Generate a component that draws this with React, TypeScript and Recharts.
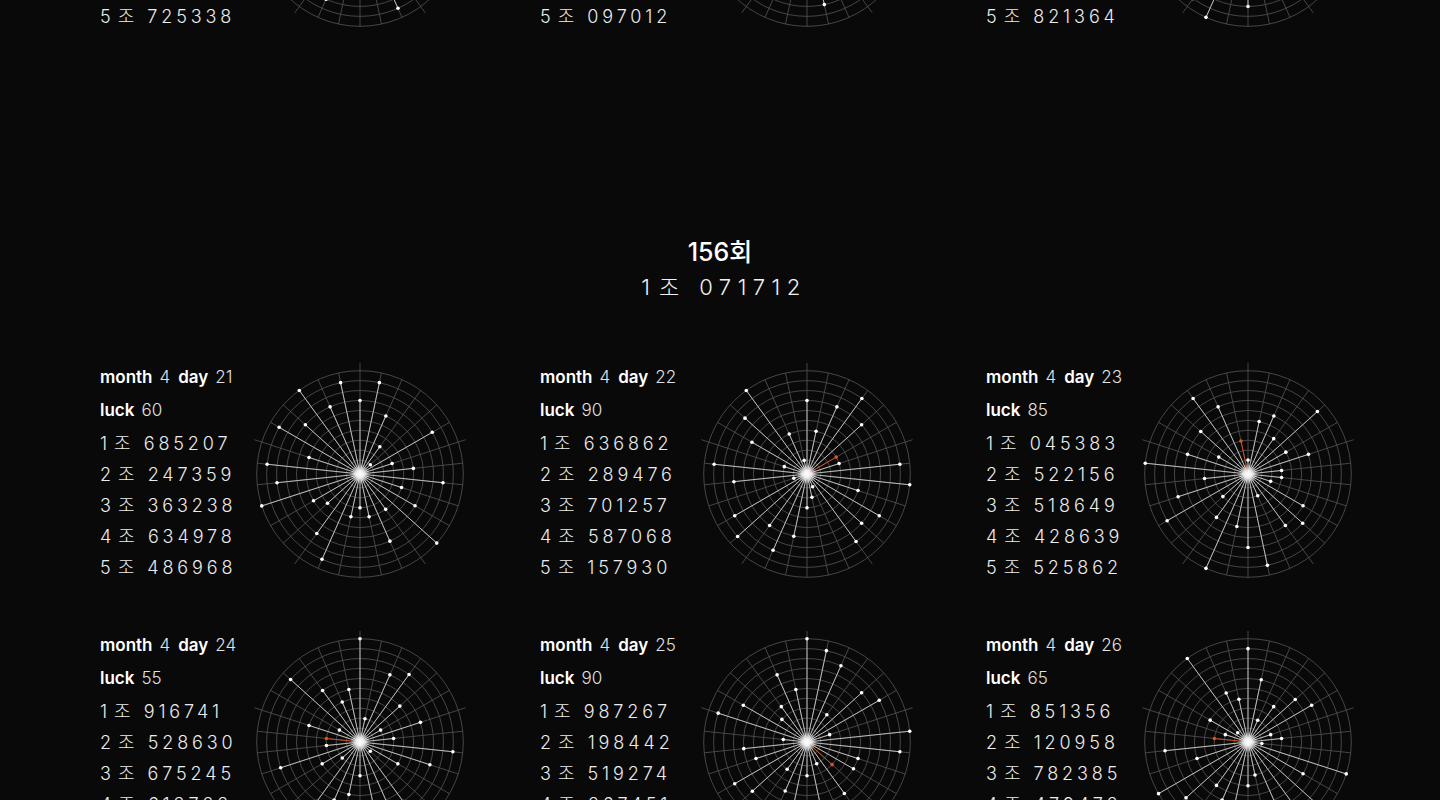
import { RadarChart, Radar, PolarGrid, PolarAngleAxis, PolarRadiusAxis } from 'recharts';

// 156회 winning number
const ROUND_NO = 156;
const WIN_GROUP = 1;
const WIN_NUMBER = '071712';

// 156회 cards (two rows of three)
const MONTH = 4;
const DAYS = [21, 22, 23, 24, 25, 26];
const LUCK = [60, 90, 85, 55, 90, 65];
const DAY_21 = ['685207', '247359', '363238', '634978', '486968'];
const DAY_22 = ['636862', '289476', '701257', '587068', '157930'];
const DAY_23 = ['045383', '522156', '518649', '428639', '525862'];
const DAY_24 = ['916741', '528630', '675245', '613722', '418534'];
const DAY_25 = ['987267', '198442', '519274', '267451', '862364'];
const DAY_26 = ['851356', '120958', '782385', '479472', '130943'];

// previous round, only the bottom of its last row is on screen
const PREV_DAYS = [18, 19, 20];
const PREV_LUCK = [70, 80, 75];
const PREV_18 = ['418205', '360917', '381247', '529063', '725338'];
const PREV_19 = ['254186', '713520', '637251', '482096', '097012'];
const PREV_20 = ['590427', '346815', '241739', '865102', '821364'];

const TEXT_X = [100, 540, 986];
const CHART_X = [360, 807, 1248];

const CHART_SIZE = 240;
const OUTER = 103.3;
const R_MIN = -1.4;
const R_MAX = 9;
const RINGS = [0, 1, 2, 3, 4, 5, 6, 7, 8, 9];

const FONT = 'Inter, "Noto Sans CJK KR", sans-serif';
const RED = '#e2541c';
const GRID = '#555555';
const PAGE_H = 800;

const ringRadius = (v: number) => ((v - R_MIN) / (R_MAX - R_MIN)) * OUTER;

// trailing digits that match the winning number turn red
function redFlags(rows: string[], win: string | null) {
  const flags: boolean[] = [];
  rows.forEach((row) => {
    const f = row.split('').map(() => false);
    if (win) {
      for (let j = row.length - 1; j >= 0; j--) {
        if (row[j] !== win[j]) break;
        f[j] = true;
      }
    }
    flags.push(...f);
  });
  return flags;
}

const Spokes = ({ points, red, id }: any) => {
  if (!points || !points.length) return null;
  const cx = points[0].cx ?? CHART_SIZE / 2;
  const cy = points[0].cy ?? CHART_SIZE / 2;
  const rad = Math.PI / 180;
  return (
    <g>
      <defs>
        <radialGradient id={`glow-${id}`}>
          <stop offset="0%" stopColor="#fff" stopOpacity={1} />
          <stop offset="40%" stopColor="#fff" stopOpacity={0.75} />
          <stop offset="100%" stopColor="#fff" stopOpacity={0} />
        </radialGradient>
      </defs>
      {points.map((p: any, i: number) =>
        i % 6 === 0 ? (
          <line
            key={`ext-${i}`}
            x1={cx + OUTER * Math.cos(-p.angle * rad)}
            y1={cy + OUTER * Math.sin(-p.angle * rad)}
            x2={cx + 111 * Math.cos(-p.angle * rad)}
            y2={cy + 111 * Math.sin(-p.angle * rad)}
            stroke={GRID}
            strokeWidth={0.8}
          />
        ) : null
      )}
      {points.map((p: any, i: number) => (
        <line
          key={`s-${i}`}
          x1={cx}
          y1={cy}
          x2={p.x}
          y2={p.y}
          stroke={red[i] ? RED : '#d0d0d0'}
          strokeWidth={0.85}
        />
      ))}
      {points.map((p: any, i: number) => (
        <circle key={`d-${i}`} cx={p.x} cy={p.y} r={1.8} fill={red[i] ? RED : '#fff'} />
      ))}
      <circle cx={cx} cy={cy} r={10} fill={`url(#glow-${id})`} />
    </g>
  );
};

function LuckRadar({ rows, win, id }: { rows: string[]; win: string | null; id: string }) {
  const data = rows.join('').split('').map((d, i) => ({ k: i, v: Number(d) }));
  const red = redFlags(rows, win);
  return (
    <RadarChart
      width={CHART_SIZE}
      height={CHART_SIZE}
      data={data}
      cx="50%"
      cy="50%"
      outerRadius={OUTER}
      margin={{ top: 0, right: 0, bottom: 0, left: 0 }}
    >
      <PolarGrid
        gridType="circle"
        polarRadius={RINGS.map(ringRadius)}
        stroke={GRID}
        strokeWidth={0.8}
      />
      <PolarAngleAxis dataKey="k" tick={false} axisLine={false} tickLine={false} />
      <PolarRadiusAxis domain={[R_MIN, R_MAX]} tick={false} axisLine={false} />
      <Radar
        dataKey="v"
        isAnimationActive={false}
        dot={false}
        shape={(p: any) => <Spokes points={p.points} red={red} id={id} />}
      />
    </RadarChart>
  );
}

const lineStyle = (top: number, size = 18): React.CSSProperties => ({
  position: 'absolute',
  left: 0,
  top: top - 12,
  height: 24,
  lineHeight: '24px',
  whiteSpace: 'nowrap',
  fontSize: size,
});

function Card({ col, cy, day, luck, rows, win }: any) {
  const x = TEXT_X[col];
  // only lines that reach into the page are drawn
  const shows = (dy: number) => cy + dy > -12 && cy + dy < PAGE_H + 12;
  return (
    <>
      <div style={{ position: 'absolute', left: x, top: cy, width: 200 }}>
        {shows(-97) && (
          <div style={lineStyle(-97, 17)}>
            <span style={{ fontWeight: 600, color: '#fff' }}>month</span>
            <span style={{ fontWeight: 300, color: '#e2e2e2', marginLeft: 7 }}>{MONTH}</span>
            <span style={{ fontWeight: 600, color: '#fff', marginLeft: 8 }}>day</span>
            <span style={{ fontWeight: 300, color: '#e2e2e2', marginLeft: 7 }}>{day}</span>
          </div>
        )}
        {shows(-64) && (
          <div style={lineStyle(-64, 17)}>
            <span style={{ fontWeight: 600, color: '#fff' }}>luck</span>
            <span style={{ fontWeight: 300, color: '#e2e2e2', marginLeft: 7 }}>{luck}</span>
          </div>
        )}
        {rows.map((r: string, i: number) =>
          shows(-30 + 31 * i) ? (
            <div key={i} style={{ ...lineStyle(-30 + 31 * i), fontWeight: 300, color: '#ececec' }}>
              <span>{i + 1}</span>
              <span style={{ marginLeft: 7 }}>조</span>
              <span style={{ marginLeft: 13, letterSpacing: 3.9 }}>{r}</span>
            </div>
          ) : null
        )}
      </div>
      <div
        style={{
          position: 'absolute',
          left: CHART_X[col] - CHART_SIZE / 2,
          top: cy - CHART_SIZE / 2,
        }}
      >
        <LuckRadar rows={rows} win={win} id={`c${col}-${cy}`} />
      </div>
    </>
  );
}

export default function App() {
  const days156 = [DAY_21, DAY_22, DAY_23, DAY_24, DAY_25, DAY_26];
  const prev = [PREV_18, PREV_19, PREV_20];
  return (
    <div
      style={{
        position: 'absolute',
        left: 0,
        top: 0,
        width: 1440,
        height: PAGE_H,
        overflow: 'hidden',
        background: '#090909',
        fontFamily: FONT,
        color: '#fff',
      }}
    >
      {prev.map((rows, i) => (
        <Card key={`p${i}`} col={i} cy={-77} day={PREV_DAYS[i]} luck={PREV_LUCK[i]} rows={rows} win={null} />
      ))}

      <div
        style={{
          position: 'absolute',
          left: 0,
          width: 1440,
          top: 252 - 16,
          height: 32,
          lineHeight: '32px',
          textAlign: 'center',
          fontSize: 25,
          fontWeight: 500,
          color: '#fff',
        }}
      >
        {ROUND_NO}회
      </div>
      <div
        style={{
          position: 'absolute',
          left: 4,
          width: 1440,
          top: 287 - 15,
          height: 30,
          lineHeight: '30px',
          textAlign: 'center',
          fontSize: 22,
          fontWeight: 300,
          color: '#f0f0f0',
        }}
      >
        <span>{WIN_GROUP}</span>
        <span style={{ marginLeft: 9 }}>조</span>
        <span style={{ marginLeft: 20, letterSpacing: 6.5 }}>{WIN_NUMBER}</span>
      </div>

      {days156.map((rows, i) => (
        <Card
          key={`d${i}`}
          col={i % 3}
          cy={i < 3 ? 474 : 742}
          day={DAYS[i]}
          luck={LUCK[i]}
          rows={rows}
          win={WIN_NUMBER}
        />
      ))}
    </div>
  );
}
